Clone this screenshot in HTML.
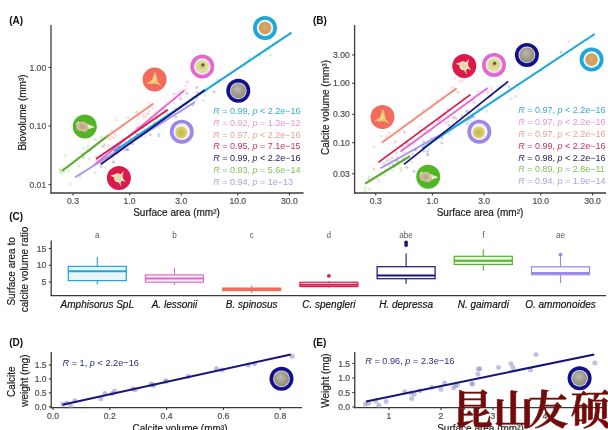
<!DOCTYPE html>
<html><head><meta charset="utf-8"><title>Figure</title>
<style>html,body{margin:0;padding:0;background:#fff;width:608px;height:430px;overflow:hidden}svg{display:block;filter:blur(0.35px)}text{font-family:"Liberation Sans", Arial, sans-serif}</style>
</head><body>
<svg width="608" height="430" viewBox="0 0 608 430">
<rect width="608" height="430" fill="#fff"/>
<defs>
<radialGradient id="g_tan" cx="50%" cy="45%" r="60%"><stop offset="0" stop-color="#d8b070"/><stop offset="0.6" stop-color="#cf9d5e"/><stop offset="1" stop-color="#d6ae78"/></radialGradient>
<radialGradient id="g_yel" cx="50%" cy="45%" r="55%"><stop offset="0" stop-color="#c8b868"/><stop offset="0.5" stop-color="#d8dc92"/><stop offset="1" stop-color="#e4e2a8"/></radialGradient>
<radialGradient id="g_gry" cx="45%" cy="40%" r="65%"><stop offset="0" stop-color="#bdbab0"/><stop offset="0.6" stop-color="#9d9a8a"/><stop offset="1" stop-color="#8a887a"/></radialGradient>
<radialGradient id="g_olv" cx="50%" cy="50%" r="55%"><stop offset="0" stop-color="#c2b648"/><stop offset="0.6" stop-color="#d3c962"/><stop offset="1" stop-color="#ddd690"/></radialGradient>
</defs>
<circle cx="78.75" cy="165.94" r="1.50" fill="#52b525" fill-opacity="0.2" stroke="none" stroke-width="0"/>
<circle cx="59.84" cy="169.45" r="1.50" fill="#52b525" fill-opacity="0.2" stroke="none" stroke-width="0"/>
<circle cx="61.02" cy="171.05" r="1.50" fill="#52b525" fill-opacity="0.2" stroke="none" stroke-width="0"/>
<circle cx="83.33" cy="156.41" r="1.50" fill="#52b525" fill-opacity="0.2" stroke="none" stroke-width="0"/>
<circle cx="82.37" cy="153.58" r="1.50" fill="#52b525" fill-opacity="0.2" stroke="none" stroke-width="0"/>
<circle cx="65.70" cy="155.52" r="1.50" fill="#52b525" fill-opacity="0.2" stroke="none" stroke-width="0"/>
<circle cx="83.37" cy="157.78" r="1.50" fill="#52b525" fill-opacity="0.2" stroke="none" stroke-width="0"/>
<circle cx="62.79" cy="168.38" r="1.50" fill="#52b525" fill-opacity="0.2" stroke="none" stroke-width="0"/>
<circle cx="68.41" cy="170.42" r="1.50" fill="#52b525" fill-opacity="0.2" stroke="none" stroke-width="0"/>
<circle cx="104.49" cy="145.54" r="1.50" fill="#52b525" fill-opacity="0.2" stroke="none" stroke-width="0"/>
<circle cx="90.61" cy="151.46" r="1.50" fill="#52b525" fill-opacity="0.2" stroke="none" stroke-width="0"/>
<circle cx="64.00" cy="172.16" r="1.50" fill="#52b525" fill-opacity="0.2" stroke="none" stroke-width="0"/>
<circle cx="93.15" cy="147.12" r="1.50" fill="#52b525" fill-opacity="0.2" stroke="none" stroke-width="0"/>
<circle cx="87.94" cy="150.38" r="1.50" fill="#52b525" fill-opacity="0.2" stroke="none" stroke-width="0"/>
<circle cx="100.94" cy="136.91" r="1.50" fill="#52b525" fill-opacity="0.2" stroke="none" stroke-width="0"/>
<circle cx="83.71" cy="148.01" r="1.50" fill="#52b525" fill-opacity="0.2" stroke="none" stroke-width="0"/>
<circle cx="96.15" cy="156.77" r="1.50" fill="#52b525" fill-opacity="0.2" stroke="none" stroke-width="0"/>
<circle cx="60.70" cy="172.76" r="1.50" fill="#52b525" fill-opacity="0.2" stroke="none" stroke-width="0"/>
<circle cx="66.08" cy="167.30" r="1.50" fill="#52b525" fill-opacity="0.2" stroke="none" stroke-width="0"/>
<circle cx="95.18" cy="139.22" r="1.50" fill="#52b525" fill-opacity="0.2" stroke="none" stroke-width="0"/>
<circle cx="104.23" cy="144.19" r="1.50" fill="#52b525" fill-opacity="0.2" stroke="none" stroke-width="0"/>
<circle cx="87.93" cy="146.13" r="1.50" fill="#52b525" fill-opacity="0.2" stroke="none" stroke-width="0"/>
<circle cx="151.76" cy="105.08" r="1.50" fill="#f16c5c" fill-opacity="0.2" stroke="none" stroke-width="0"/>
<circle cx="143.28" cy="116.71" r="1.50" fill="#f16c5c" fill-opacity="0.2" stroke="none" stroke-width="0"/>
<circle cx="143.59" cy="114.08" r="1.50" fill="#f16c5c" fill-opacity="0.2" stroke="none" stroke-width="0"/>
<circle cx="114.86" cy="133.42" r="1.50" fill="#f16c5c" fill-opacity="0.2" stroke="none" stroke-width="0"/>
<circle cx="102.14" cy="139.41" r="1.50" fill="#f16c5c" fill-opacity="0.2" stroke="none" stroke-width="0"/>
<circle cx="113.85" cy="138.12" r="1.50" fill="#f16c5c" fill-opacity="0.2" stroke="none" stroke-width="0"/>
<circle cx="109.78" cy="139.53" r="1.50" fill="#f16c5c" fill-opacity="0.2" stroke="none" stroke-width="0"/>
<circle cx="153.14" cy="108.44" r="1.50" fill="#f16c5c" fill-opacity="0.2" stroke="none" stroke-width="0"/>
<circle cx="136.81" cy="112.08" r="1.50" fill="#f16c5c" fill-opacity="0.2" stroke="none" stroke-width="0"/>
<circle cx="149.32" cy="111.17" r="1.50" fill="#f16c5c" fill-opacity="0.2" stroke="none" stroke-width="0"/>
<circle cx="127.91" cy="117.29" r="1.50" fill="#f16c5c" fill-opacity="0.2" stroke="none" stroke-width="0"/>
<circle cx="111.89" cy="136.96" r="1.50" fill="#f16c5c" fill-opacity="0.2" stroke="none" stroke-width="0"/>
<circle cx="111.44" cy="131.15" r="1.50" fill="#f16c5c" fill-opacity="0.2" stroke="none" stroke-width="0"/>
<circle cx="120.15" cy="129.51" r="1.50" fill="#f16c5c" fill-opacity="0.2" stroke="none" stroke-width="0"/>
<circle cx="116.06" cy="120.24" r="1.50" fill="#f16c5c" fill-opacity="0.2" stroke="none" stroke-width="0"/>
<circle cx="136.25" cy="112.13" r="1.50" fill="#f16c5c" fill-opacity="0.2" stroke="none" stroke-width="0"/>
<circle cx="145.68" cy="116.92" r="1.50" fill="#f16c5c" fill-opacity="0.2" stroke="none" stroke-width="0"/>
<circle cx="149.06" cy="102.99" r="1.50" fill="#f16c5c" fill-opacity="0.2" stroke="none" stroke-width="0"/>
<circle cx="122.98" cy="125.74" r="1.50" fill="#f16c5c" fill-opacity="0.2" stroke="none" stroke-width="0"/>
<circle cx="138.36" cy="115.69" r="1.50" fill="#f16c5c" fill-opacity="0.2" stroke="none" stroke-width="0"/>
<circle cx="115.51" cy="135.35" r="1.50" fill="#f16c5c" fill-opacity="0.2" stroke="none" stroke-width="0"/>
<circle cx="107.27" cy="137.53" r="1.50" fill="#f16c5c" fill-opacity="0.2" stroke="none" stroke-width="0"/>
<circle cx="80.35" cy="174.55" r="1.50" fill="#9a86ec" fill-opacity="0.2" stroke="none" stroke-width="0"/>
<circle cx="185.99" cy="105.08" r="1.50" fill="#9a86ec" fill-opacity="0.2" stroke="none" stroke-width="0"/>
<circle cx="99.93" cy="164.57" r="1.50" fill="#9a86ec" fill-opacity="0.2" stroke="none" stroke-width="0"/>
<circle cx="89.25" cy="159.02" r="1.50" fill="#9a86ec" fill-opacity="0.2" stroke="none" stroke-width="0"/>
<circle cx="129.75" cy="142.43" r="1.50" fill="#9a86ec" fill-opacity="0.2" stroke="none" stroke-width="0"/>
<circle cx="79.60" cy="176.91" r="1.50" fill="#9a86ec" fill-opacity="0.2" stroke="none" stroke-width="0"/>
<circle cx="181.35" cy="111.79" r="1.50" fill="#9a86ec" fill-opacity="0.2" stroke="none" stroke-width="0"/>
<circle cx="196.17" cy="99.83" r="1.50" fill="#9a86ec" fill-opacity="0.2" stroke="none" stroke-width="0"/>
<circle cx="145.27" cy="136.58" r="1.50" fill="#9a86ec" fill-opacity="0.2" stroke="none" stroke-width="0"/>
<circle cx="204.65" cy="92.11" r="1.50" fill="#9a86ec" fill-opacity="0.2" stroke="none" stroke-width="0"/>
<circle cx="101.57" cy="162.15" r="1.50" fill="#9a86ec" fill-opacity="0.2" stroke="none" stroke-width="0"/>
<circle cx="168.06" cy="114.02" r="1.50" fill="#9a86ec" fill-opacity="0.2" stroke="none" stroke-width="0"/>
<circle cx="113.16" cy="162.99" r="1.50" fill="#9a86ec" fill-opacity="0.2" stroke="none" stroke-width="0"/>
<circle cx="205.77" cy="90.16" r="1.50" fill="#9a86ec" fill-opacity="0.2" stroke="none" stroke-width="0"/>
<circle cx="179.42" cy="108.20" r="1.50" fill="#9a86ec" fill-opacity="0.2" stroke="none" stroke-width="0"/>
<circle cx="137.68" cy="138.71" r="1.50" fill="#9a86ec" fill-opacity="0.2" stroke="none" stroke-width="0"/>
<circle cx="70.24" cy="183.85" r="1.50" fill="#9a86ec" fill-opacity="0.2" stroke="none" stroke-width="0"/>
<circle cx="165.37" cy="121.18" r="1.50" fill="#9a86ec" fill-opacity="0.2" stroke="none" stroke-width="0"/>
<circle cx="203.36" cy="100.60" r="1.50" fill="#9a86ec" fill-opacity="0.2" stroke="none" stroke-width="0"/>
<circle cx="117.45" cy="154.49" r="1.50" fill="#9a86ec" fill-opacity="0.2" stroke="none" stroke-width="0"/>
<circle cx="95.10" cy="172.18" r="1.50" fill="#9a86ec" fill-opacity="0.2" stroke="none" stroke-width="0"/>
<circle cx="192.69" cy="99.89" r="1.50" fill="#9a86ec" fill-opacity="0.2" stroke="none" stroke-width="0"/>
<circle cx="156.33" cy="111.90" r="1.50" fill="#e268ce" fill-opacity="0.2" stroke="none" stroke-width="0"/>
<circle cx="161.15" cy="108.57" r="1.50" fill="#e268ce" fill-opacity="0.2" stroke="none" stroke-width="0"/>
<circle cx="164.08" cy="106.04" r="1.50" fill="#e268ce" fill-opacity="0.2" stroke="none" stroke-width="0"/>
<circle cx="167.29" cy="110.07" r="1.50" fill="#e268ce" fill-opacity="0.2" stroke="none" stroke-width="0"/>
<circle cx="186.33" cy="89.76" r="1.50" fill="#e268ce" fill-opacity="0.2" stroke="none" stroke-width="0"/>
<circle cx="185.90" cy="85.79" r="1.50" fill="#e268ce" fill-opacity="0.2" stroke="none" stroke-width="0"/>
<circle cx="105.60" cy="167.67" r="1.50" fill="#e268ce" fill-opacity="0.2" stroke="none" stroke-width="0"/>
<circle cx="175.15" cy="108.23" r="1.50" fill="#e268ce" fill-opacity="0.2" stroke="none" stroke-width="0"/>
<circle cx="188.10" cy="82.06" r="1.50" fill="#e268ce" fill-opacity="0.2" stroke="none" stroke-width="0"/>
<circle cx="145.55" cy="123.44" r="1.50" fill="#e268ce" fill-opacity="0.2" stroke="none" stroke-width="0"/>
<circle cx="186.50" cy="81.80" r="1.50" fill="#e268ce" fill-opacity="0.2" stroke="none" stroke-width="0"/>
<circle cx="179.27" cy="94.02" r="1.50" fill="#e268ce" fill-opacity="0.2" stroke="none" stroke-width="0"/>
<circle cx="174.32" cy="102.81" r="1.50" fill="#e268ce" fill-opacity="0.2" stroke="none" stroke-width="0"/>
<circle cx="119.13" cy="151.30" r="1.50" fill="#e268ce" fill-opacity="0.2" stroke="none" stroke-width="0"/>
<circle cx="114.04" cy="148.83" r="1.50" fill="#e268ce" fill-opacity="0.2" stroke="none" stroke-width="0"/>
<circle cx="180.38" cy="96.34" r="1.50" fill="#e268ce" fill-opacity="0.2" stroke="none" stroke-width="0"/>
<circle cx="151.36" cy="116.90" r="1.50" fill="#e268ce" fill-opacity="0.2" stroke="none" stroke-width="0"/>
<circle cx="179.50" cy="91.22" r="1.50" fill="#e268ce" fill-opacity="0.2" stroke="none" stroke-width="0"/>
<circle cx="145.83" cy="125.60" r="1.50" fill="#e268ce" fill-opacity="0.2" stroke="none" stroke-width="0"/>
<circle cx="112.96" cy="154.28" r="1.50" fill="#e268ce" fill-opacity="0.2" stroke="none" stroke-width="0"/>
<circle cx="101.72" cy="156.31" r="1.50" fill="#e268ce" fill-opacity="0.2" stroke="none" stroke-width="0"/>
<circle cx="144.34" cy="127.52" r="1.50" fill="#e268ce" fill-opacity="0.2" stroke="none" stroke-width="0"/>
<circle cx="137.08" cy="128.65" r="1.50" fill="#da1a4a" fill-opacity="0.2" stroke="none" stroke-width="0"/>
<circle cx="137.20" cy="134.71" r="1.50" fill="#da1a4a" fill-opacity="0.2" stroke="none" stroke-width="0"/>
<circle cx="150.81" cy="118.36" r="1.50" fill="#da1a4a" fill-opacity="0.2" stroke="none" stroke-width="0"/>
<circle cx="156.41" cy="116.54" r="1.50" fill="#da1a4a" fill-opacity="0.2" stroke="none" stroke-width="0"/>
<circle cx="137.89" cy="127.51" r="1.50" fill="#da1a4a" fill-opacity="0.2" stroke="none" stroke-width="0"/>
<circle cx="144.56" cy="125.00" r="1.50" fill="#da1a4a" fill-opacity="0.2" stroke="none" stroke-width="0"/>
<circle cx="134.74" cy="132.56" r="1.50" fill="#da1a4a" fill-opacity="0.2" stroke="none" stroke-width="0"/>
<circle cx="165.43" cy="111.38" r="1.50" fill="#da1a4a" fill-opacity="0.2" stroke="none" stroke-width="0"/>
<circle cx="142.50" cy="127.39" r="1.50" fill="#da1a4a" fill-opacity="0.2" stroke="none" stroke-width="0"/>
<circle cx="104.63" cy="158.41" r="1.50" fill="#da1a4a" fill-opacity="0.2" stroke="none" stroke-width="0"/>
<circle cx="97.03" cy="160.28" r="1.50" fill="#da1a4a" fill-opacity="0.2" stroke="none" stroke-width="0"/>
<circle cx="147.54" cy="114.08" r="1.50" fill="#da1a4a" fill-opacity="0.2" stroke="none" stroke-width="0"/>
<circle cx="102.78" cy="146.51" r="1.50" fill="#da1a4a" fill-opacity="0.2" stroke="none" stroke-width="0"/>
<circle cx="108.59" cy="145.55" r="1.50" fill="#da1a4a" fill-opacity="0.2" stroke="none" stroke-width="0"/>
<circle cx="111.98" cy="148.52" r="1.50" fill="#da1a4a" fill-opacity="0.2" stroke="none" stroke-width="0"/>
<circle cx="136.82" cy="134.22" r="1.50" fill="#da1a4a" fill-opacity="0.2" stroke="none" stroke-width="0"/>
<circle cx="101.01" cy="155.81" r="1.50" fill="#da1a4a" fill-opacity="0.2" stroke="none" stroke-width="0"/>
<circle cx="119.82" cy="147.35" r="1.50" fill="#da1a4a" fill-opacity="0.2" stroke="none" stroke-width="0"/>
<circle cx="154.31" cy="122.28" r="1.50" fill="#da1a4a" fill-opacity="0.2" stroke="none" stroke-width="0"/>
<circle cx="129.97" cy="137.99" r="1.50" fill="#da1a4a" fill-opacity="0.2" stroke="none" stroke-width="0"/>
<circle cx="141.34" cy="126.94" r="1.50" fill="#da1a4a" fill-opacity="0.2" stroke="none" stroke-width="0"/>
<circle cx="174.12" cy="93.64" r="1.50" fill="#da1a4a" fill-opacity="0.2" stroke="none" stroke-width="0"/>
<circle cx="122.88" cy="146.73" r="1.50" fill="#1da6d8" fill-opacity="0.2" stroke="none" stroke-width="0"/>
<circle cx="260.39" cy="55.97" r="1.50" fill="#1da6d8" fill-opacity="0.2" stroke="none" stroke-width="0"/>
<circle cx="192.48" cy="97.13" r="1.50" fill="#1da6d8" fill-opacity="0.2" stroke="none" stroke-width="0"/>
<circle cx="158.34" cy="133.38" r="1.50" fill="#1da6d8" fill-opacity="0.2" stroke="none" stroke-width="0"/>
<circle cx="217.65" cy="79.72" r="1.50" fill="#1da6d8" fill-opacity="0.2" stroke="none" stroke-width="0"/>
<circle cx="112.12" cy="146.88" r="1.50" fill="#1da6d8" fill-opacity="0.2" stroke="none" stroke-width="0"/>
<circle cx="120.30" cy="147.05" r="1.50" fill="#1da6d8" fill-opacity="0.2" stroke="none" stroke-width="0"/>
<circle cx="270.32" cy="55.21" r="1.50" fill="#1da6d8" fill-opacity="0.2" stroke="none" stroke-width="0"/>
<circle cx="117.32" cy="146.34" r="1.50" fill="#1da6d8" fill-opacity="0.2" stroke="none" stroke-width="0"/>
<circle cx="164.32" cy="109.60" r="1.50" fill="#1da6d8" fill-opacity="0.2" stroke="none" stroke-width="0"/>
<circle cx="158.78" cy="127.51" r="1.50" fill="#1da6d8" fill-opacity="0.2" stroke="none" stroke-width="0"/>
<circle cx="151.62" cy="128.97" r="1.50" fill="#1da6d8" fill-opacity="0.2" stroke="none" stroke-width="0"/>
<circle cx="112.63" cy="156.86" r="1.50" fill="#1da6d8" fill-opacity="0.2" stroke="none" stroke-width="0"/>
<circle cx="163.98" cy="113.87" r="1.50" fill="#1da6d8" fill-opacity="0.2" stroke="none" stroke-width="0"/>
<circle cx="204.87" cy="95.55" r="1.50" fill="#1da6d8" fill-opacity="0.2" stroke="none" stroke-width="0"/>
<circle cx="105.28" cy="158.00" r="1.50" fill="#1da6d8" fill-opacity="0.2" stroke="none" stroke-width="0"/>
<circle cx="249.37" cy="58.60" r="1.50" fill="#1da6d8" fill-opacity="0.2" stroke="none" stroke-width="0"/>
<circle cx="199.79" cy="93.90" r="1.50" fill="#1da6d8" fill-opacity="0.2" stroke="none" stroke-width="0"/>
<circle cx="265.54" cy="50.33" r="1.50" fill="#1da6d8" fill-opacity="0.2" stroke="none" stroke-width="0"/>
<circle cx="269.15" cy="49.47" r="1.50" fill="#1da6d8" fill-opacity="0.2" stroke="none" stroke-width="0"/>
<circle cx="244.69" cy="65.30" r="1.50" fill="#1da6d8" fill-opacity="0.2" stroke="none" stroke-width="0"/>
<circle cx="270.32" cy="39.24" r="1.50" fill="#1da6d8" fill-opacity="0.2" stroke="none" stroke-width="0"/>
<circle cx="141.31" cy="136.23" r="1.50" fill="#16137a" fill-opacity="0.2" stroke="none" stroke-width="0"/>
<circle cx="113.49" cy="161.85" r="1.50" fill="#16137a" fill-opacity="0.2" stroke="none" stroke-width="0"/>
<circle cx="124.72" cy="149.38" r="1.50" fill="#16137a" fill-opacity="0.2" stroke="none" stroke-width="0"/>
<circle cx="197.12" cy="92.19" r="1.50" fill="#16137a" fill-opacity="0.2" stroke="none" stroke-width="0"/>
<circle cx="127.34" cy="149.50" r="1.50" fill="#16137a" fill-opacity="0.2" stroke="none" stroke-width="0"/>
<circle cx="150.21" cy="134.73" r="1.50" fill="#16137a" fill-opacity="0.2" stroke="none" stroke-width="0"/>
<circle cx="132.80" cy="143.74" r="1.50" fill="#16137a" fill-opacity="0.2" stroke="none" stroke-width="0"/>
<circle cx="159.17" cy="135.69" r="1.50" fill="#16137a" fill-opacity="0.2" stroke="none" stroke-width="0"/>
<circle cx="130.43" cy="143.16" r="1.50" fill="#16137a" fill-opacity="0.2" stroke="none" stroke-width="0"/>
<circle cx="135.62" cy="137.77" r="1.50" fill="#16137a" fill-opacity="0.2" stroke="none" stroke-width="0"/>
<circle cx="117.24" cy="152.23" r="1.50" fill="#16137a" fill-opacity="0.2" stroke="none" stroke-width="0"/>
<circle cx="127.65" cy="149.55" r="1.50" fill="#16137a" fill-opacity="0.2" stroke="none" stroke-width="0"/>
<circle cx="101.04" cy="166.44" r="1.50" fill="#16137a" fill-opacity="0.2" stroke="none" stroke-width="0"/>
<circle cx="118.18" cy="146.38" r="1.50" fill="#16137a" fill-opacity="0.2" stroke="none" stroke-width="0"/>
<circle cx="180.59" cy="98.72" r="1.50" fill="#16137a" fill-opacity="0.2" stroke="none" stroke-width="0"/>
<circle cx="196.52" cy="97.22" r="1.50" fill="#16137a" fill-opacity="0.2" stroke="none" stroke-width="0"/>
<circle cx="214.03" cy="91.84" r="1.50" fill="#16137a" fill-opacity="0.2" stroke="none" stroke-width="0"/>
<circle cx="175.87" cy="117.09" r="1.50" fill="#16137a" fill-opacity="0.2" stroke="none" stroke-width="0"/>
<circle cx="196.70" cy="87.45" r="1.50" fill="#16137a" fill-opacity="0.2" stroke="none" stroke-width="0"/>
<circle cx="192.92" cy="104.76" r="1.50" fill="#16137a" fill-opacity="0.2" stroke="none" stroke-width="0"/>
<circle cx="156.55" cy="118.58" r="1.50" fill="#16137a" fill-opacity="0.2" stroke="none" stroke-width="0"/>
<circle cx="186.79" cy="93.55" r="1.50" fill="#16137a" fill-opacity="0.2" stroke="none" stroke-width="0"/>
<circle cx="396.39" cy="160.68" r="1.50" fill="#52b525" fill-opacity="0.2" stroke="none" stroke-width="0"/>
<circle cx="365.47" cy="188.04" r="1.50" fill="#52b525" fill-opacity="0.2" stroke="none" stroke-width="0"/>
<circle cx="369.34" cy="176.73" r="1.50" fill="#52b525" fill-opacity="0.2" stroke="none" stroke-width="0"/>
<circle cx="391.13" cy="160.42" r="1.50" fill="#52b525" fill-opacity="0.2" stroke="none" stroke-width="0"/>
<circle cx="392.53" cy="170.34" r="1.50" fill="#52b525" fill-opacity="0.2" stroke="none" stroke-width="0"/>
<circle cx="396.80" cy="161.90" r="1.50" fill="#52b525" fill-opacity="0.2" stroke="none" stroke-width="0"/>
<circle cx="400.42" cy="168.11" r="1.50" fill="#52b525" fill-opacity="0.2" stroke="none" stroke-width="0"/>
<circle cx="377.06" cy="179.36" r="1.50" fill="#52b525" fill-opacity="0.2" stroke="none" stroke-width="0"/>
<circle cx="400.91" cy="170.50" r="1.50" fill="#52b525" fill-opacity="0.2" stroke="none" stroke-width="0"/>
<circle cx="409.29" cy="155.06" r="1.50" fill="#52b525" fill-opacity="0.2" stroke="none" stroke-width="0"/>
<circle cx="384.57" cy="162.67" r="1.50" fill="#52b525" fill-opacity="0.2" stroke="none" stroke-width="0"/>
<circle cx="393.00" cy="164.57" r="1.50" fill="#52b525" fill-opacity="0.2" stroke="none" stroke-width="0"/>
<circle cx="369.44" cy="189.12" r="1.50" fill="#52b525" fill-opacity="0.2" stroke="none" stroke-width="0"/>
<circle cx="377.21" cy="175.63" r="1.50" fill="#52b525" fill-opacity="0.2" stroke="none" stroke-width="0"/>
<circle cx="364.56" cy="191.02" r="1.50" fill="#52b525" fill-opacity="0.2" stroke="none" stroke-width="0"/>
<circle cx="396.51" cy="160.08" r="1.50" fill="#52b525" fill-opacity="0.2" stroke="none" stroke-width="0"/>
<circle cx="385.30" cy="170.53" r="1.50" fill="#52b525" fill-opacity="0.2" stroke="none" stroke-width="0"/>
<circle cx="369.64" cy="179.73" r="1.50" fill="#52b525" fill-opacity="0.2" stroke="none" stroke-width="0"/>
<circle cx="412.88" cy="154.44" r="1.50" fill="#52b525" fill-opacity="0.2" stroke="none" stroke-width="0"/>
<circle cx="388.96" cy="159.22" r="1.50" fill="#52b525" fill-opacity="0.2" stroke="none" stroke-width="0"/>
<circle cx="384.88" cy="174.81" r="1.50" fill="#52b525" fill-opacity="0.2" stroke="none" stroke-width="0"/>
<circle cx="411.65" cy="162.22" r="1.50" fill="#52b525" fill-opacity="0.2" stroke="none" stroke-width="0"/>
<circle cx="381.35" cy="135.77" r="1.50" fill="#f16c5c" fill-opacity="0.2" stroke="none" stroke-width="0"/>
<circle cx="389.41" cy="132.81" r="1.50" fill="#f16c5c" fill-opacity="0.2" stroke="none" stroke-width="0"/>
<circle cx="452.31" cy="87.46" r="1.50" fill="#f16c5c" fill-opacity="0.2" stroke="none" stroke-width="0"/>
<circle cx="453.21" cy="90.35" r="1.50" fill="#f16c5c" fill-opacity="0.2" stroke="none" stroke-width="0"/>
<circle cx="373.48" cy="146.58" r="1.50" fill="#f16c5c" fill-opacity="0.2" stroke="none" stroke-width="0"/>
<circle cx="404.24" cy="131.14" r="1.50" fill="#f16c5c" fill-opacity="0.2" stroke="none" stroke-width="0"/>
<circle cx="403.81" cy="126.46" r="1.50" fill="#f16c5c" fill-opacity="0.2" stroke="none" stroke-width="0"/>
<circle cx="442.01" cy="97.32" r="1.50" fill="#f16c5c" fill-opacity="0.2" stroke="none" stroke-width="0"/>
<circle cx="454.86" cy="77.98" r="1.50" fill="#f16c5c" fill-opacity="0.2" stroke="none" stroke-width="0"/>
<circle cx="399.37" cy="131.94" r="1.50" fill="#f16c5c" fill-opacity="0.2" stroke="none" stroke-width="0"/>
<circle cx="460.19" cy="81.40" r="1.50" fill="#f16c5c" fill-opacity="0.2" stroke="none" stroke-width="0"/>
<circle cx="413.22" cy="121.24" r="1.50" fill="#f16c5c" fill-opacity="0.2" stroke="none" stroke-width="0"/>
<circle cx="386.47" cy="136.61" r="1.50" fill="#f16c5c" fill-opacity="0.2" stroke="none" stroke-width="0"/>
<circle cx="457.15" cy="91.81" r="1.50" fill="#f16c5c" fill-opacity="0.2" stroke="none" stroke-width="0"/>
<circle cx="421.59" cy="118.98" r="1.50" fill="#f16c5c" fill-opacity="0.2" stroke="none" stroke-width="0"/>
<circle cx="463.02" cy="80.51" r="1.50" fill="#f16c5c" fill-opacity="0.2" stroke="none" stroke-width="0"/>
<circle cx="436.97" cy="100.82" r="1.50" fill="#f16c5c" fill-opacity="0.2" stroke="none" stroke-width="0"/>
<circle cx="423.64" cy="110.53" r="1.50" fill="#f16c5c" fill-opacity="0.2" stroke="none" stroke-width="0"/>
<circle cx="434.84" cy="103.15" r="1.50" fill="#f16c5c" fill-opacity="0.2" stroke="none" stroke-width="0"/>
<circle cx="431.82" cy="107.67" r="1.50" fill="#f16c5c" fill-opacity="0.2" stroke="none" stroke-width="0"/>
<circle cx="458.75" cy="92.48" r="1.50" fill="#f16c5c" fill-opacity="0.2" stroke="none" stroke-width="0"/>
<circle cx="404.64" cy="132.81" r="1.50" fill="#f16c5c" fill-opacity="0.2" stroke="none" stroke-width="0"/>
<circle cx="478.65" cy="120.53" r="1.50" fill="#9a86ec" fill-opacity="0.2" stroke="none" stroke-width="0"/>
<circle cx="403.49" cy="152.10" r="1.50" fill="#9a86ec" fill-opacity="0.2" stroke="none" stroke-width="0"/>
<circle cx="393.03" cy="164.80" r="1.50" fill="#9a86ec" fill-opacity="0.2" stroke="none" stroke-width="0"/>
<circle cx="469.25" cy="117.54" r="1.50" fill="#9a86ec" fill-opacity="0.2" stroke="none" stroke-width="0"/>
<circle cx="474.68" cy="117.33" r="1.50" fill="#9a86ec" fill-opacity="0.2" stroke="none" stroke-width="0"/>
<circle cx="389.43" cy="165.60" r="1.50" fill="#9a86ec" fill-opacity="0.2" stroke="none" stroke-width="0"/>
<circle cx="412.59" cy="153.40" r="1.50" fill="#9a86ec" fill-opacity="0.2" stroke="none" stroke-width="0"/>
<circle cx="396.06" cy="152.00" r="1.50" fill="#9a86ec" fill-opacity="0.2" stroke="none" stroke-width="0"/>
<circle cx="451.92" cy="129.57" r="1.50" fill="#9a86ec" fill-opacity="0.2" stroke="none" stroke-width="0"/>
<circle cx="428.37" cy="143.61" r="1.50" fill="#9a86ec" fill-opacity="0.2" stroke="none" stroke-width="0"/>
<circle cx="379.28" cy="181.13" r="1.50" fill="#9a86ec" fill-opacity="0.2" stroke="none" stroke-width="0"/>
<circle cx="383.26" cy="164.24" r="1.50" fill="#9a86ec" fill-opacity="0.2" stroke="none" stroke-width="0"/>
<circle cx="467.24" cy="123.95" r="1.50" fill="#9a86ec" fill-opacity="0.2" stroke="none" stroke-width="0"/>
<circle cx="398.04" cy="160.22" r="1.50" fill="#9a86ec" fill-opacity="0.2" stroke="none" stroke-width="0"/>
<circle cx="480.07" cy="106.32" r="1.50" fill="#9a86ec" fill-opacity="0.2" stroke="none" stroke-width="0"/>
<circle cx="380.92" cy="172.23" r="1.50" fill="#9a86ec" fill-opacity="0.2" stroke="none" stroke-width="0"/>
<circle cx="466.33" cy="119.20" r="1.50" fill="#9a86ec" fill-opacity="0.2" stroke="none" stroke-width="0"/>
<circle cx="368.65" cy="179.15" r="1.50" fill="#9a86ec" fill-opacity="0.2" stroke="none" stroke-width="0"/>
<circle cx="467.67" cy="111.75" r="1.50" fill="#9a86ec" fill-opacity="0.2" stroke="none" stroke-width="0"/>
<circle cx="402.02" cy="158.85" r="1.50" fill="#9a86ec" fill-opacity="0.2" stroke="none" stroke-width="0"/>
<circle cx="427.16" cy="129.70" r="1.50" fill="#9a86ec" fill-opacity="0.2" stroke="none" stroke-width="0"/>
<circle cx="448.49" cy="121.75" r="1.50" fill="#9a86ec" fill-opacity="0.2" stroke="none" stroke-width="0"/>
<circle cx="419.58" cy="131.04" r="1.50" fill="#da1a4a" fill-opacity="0.2" stroke="none" stroke-width="0"/>
<circle cx="455.55" cy="117.32" r="1.50" fill="#da1a4a" fill-opacity="0.2" stroke="none" stroke-width="0"/>
<circle cx="439.80" cy="119.28" r="1.50" fill="#da1a4a" fill-opacity="0.2" stroke="none" stroke-width="0"/>
<circle cx="395.58" cy="141.66" r="1.50" fill="#da1a4a" fill-opacity="0.2" stroke="none" stroke-width="0"/>
<circle cx="387.14" cy="161.01" r="1.50" fill="#da1a4a" fill-opacity="0.2" stroke="none" stroke-width="0"/>
<circle cx="432.06" cy="124.00" r="1.50" fill="#da1a4a" fill-opacity="0.2" stroke="none" stroke-width="0"/>
<circle cx="438.15" cy="120.56" r="1.50" fill="#da1a4a" fill-opacity="0.2" stroke="none" stroke-width="0"/>
<circle cx="424.92" cy="129.39" r="1.50" fill="#da1a4a" fill-opacity="0.2" stroke="none" stroke-width="0"/>
<circle cx="463.39" cy="98.80" r="1.50" fill="#da1a4a" fill-opacity="0.2" stroke="none" stroke-width="0"/>
<circle cx="402.66" cy="145.97" r="1.50" fill="#da1a4a" fill-opacity="0.2" stroke="none" stroke-width="0"/>
<circle cx="408.00" cy="143.98" r="1.50" fill="#da1a4a" fill-opacity="0.2" stroke="none" stroke-width="0"/>
<circle cx="441.36" cy="116.42" r="1.50" fill="#da1a4a" fill-opacity="0.2" stroke="none" stroke-width="0"/>
<circle cx="444.55" cy="113.49" r="1.50" fill="#da1a4a" fill-opacity="0.2" stroke="none" stroke-width="0"/>
<circle cx="373.92" cy="168.93" r="1.50" fill="#da1a4a" fill-opacity="0.2" stroke="none" stroke-width="0"/>
<circle cx="445.96" cy="122.39" r="1.50" fill="#da1a4a" fill-opacity="0.2" stroke="none" stroke-width="0"/>
<circle cx="448.21" cy="109.41" r="1.50" fill="#da1a4a" fill-opacity="0.2" stroke="none" stroke-width="0"/>
<circle cx="472.57" cy="100.10" r="1.50" fill="#da1a4a" fill-opacity="0.2" stroke="none" stroke-width="0"/>
<circle cx="397.30" cy="157.47" r="1.50" fill="#da1a4a" fill-opacity="0.2" stroke="none" stroke-width="0"/>
<circle cx="406.54" cy="142.41" r="1.50" fill="#da1a4a" fill-opacity="0.2" stroke="none" stroke-width="0"/>
<circle cx="392.31" cy="157.66" r="1.50" fill="#da1a4a" fill-opacity="0.2" stroke="none" stroke-width="0"/>
<circle cx="444.02" cy="114.38" r="1.50" fill="#da1a4a" fill-opacity="0.2" stroke="none" stroke-width="0"/>
<circle cx="415.50" cy="149.62" r="1.50" fill="#da1a4a" fill-opacity="0.2" stroke="none" stroke-width="0"/>
<circle cx="409.63" cy="146.25" r="1.50" fill="#e268ce" fill-opacity="0.2" stroke="none" stroke-width="0"/>
<circle cx="438.83" cy="121.13" r="1.50" fill="#e268ce" fill-opacity="0.2" stroke="none" stroke-width="0"/>
<circle cx="474.82" cy="102.36" r="1.50" fill="#e268ce" fill-opacity="0.2" stroke="none" stroke-width="0"/>
<circle cx="430.18" cy="142.77" r="1.50" fill="#e268ce" fill-opacity="0.2" stroke="none" stroke-width="0"/>
<circle cx="473.58" cy="103.02" r="1.50" fill="#e268ce" fill-opacity="0.2" stroke="none" stroke-width="0"/>
<circle cx="430.47" cy="131.59" r="1.50" fill="#e268ce" fill-opacity="0.2" stroke="none" stroke-width="0"/>
<circle cx="413.80" cy="143.76" r="1.50" fill="#e268ce" fill-opacity="0.2" stroke="none" stroke-width="0"/>
<circle cx="431.12" cy="129.67" r="1.50" fill="#e268ce" fill-opacity="0.2" stroke="none" stroke-width="0"/>
<circle cx="491.84" cy="90.16" r="1.50" fill="#e268ce" fill-opacity="0.2" stroke="none" stroke-width="0"/>
<circle cx="478.18" cy="91.26" r="1.50" fill="#e268ce" fill-opacity="0.2" stroke="none" stroke-width="0"/>
<circle cx="396.48" cy="153.25" r="1.50" fill="#e268ce" fill-opacity="0.2" stroke="none" stroke-width="0"/>
<circle cx="487.60" cy="93.36" r="1.50" fill="#e268ce" fill-opacity="0.2" stroke="none" stroke-width="0"/>
<circle cx="487.38" cy="91.51" r="1.50" fill="#e268ce" fill-opacity="0.2" stroke="none" stroke-width="0"/>
<circle cx="475.90" cy="95.33" r="1.50" fill="#e268ce" fill-opacity="0.2" stroke="none" stroke-width="0"/>
<circle cx="404.12" cy="157.81" r="1.50" fill="#e268ce" fill-opacity="0.2" stroke="none" stroke-width="0"/>
<circle cx="420.06" cy="126.58" r="1.50" fill="#e268ce" fill-opacity="0.2" stroke="none" stroke-width="0"/>
<circle cx="427.34" cy="143.74" r="1.50" fill="#e268ce" fill-opacity="0.2" stroke="none" stroke-width="0"/>
<circle cx="455.90" cy="118.91" r="1.50" fill="#e268ce" fill-opacity="0.2" stroke="none" stroke-width="0"/>
<circle cx="426.09" cy="133.36" r="1.50" fill="#e268ce" fill-opacity="0.2" stroke="none" stroke-width="0"/>
<circle cx="473.85" cy="97.31" r="1.50" fill="#e268ce" fill-opacity="0.2" stroke="none" stroke-width="0"/>
<circle cx="491.15" cy="87.72" r="1.50" fill="#e268ce" fill-opacity="0.2" stroke="none" stroke-width="0"/>
<circle cx="449.22" cy="118.02" r="1.50" fill="#e268ce" fill-opacity="0.2" stroke="none" stroke-width="0"/>
<circle cx="486.62" cy="110.98" r="1.50" fill="#1da6d8" fill-opacity="0.2" stroke="none" stroke-width="0"/>
<circle cx="509.58" cy="90.20" r="1.50" fill="#1da6d8" fill-opacity="0.2" stroke="none" stroke-width="0"/>
<circle cx="568.82" cy="41.57" r="1.50" fill="#1da6d8" fill-opacity="0.2" stroke="none" stroke-width="0"/>
<circle cx="561.22" cy="51.99" r="1.50" fill="#1da6d8" fill-opacity="0.2" stroke="none" stroke-width="0"/>
<circle cx="469.96" cy="121.17" r="1.50" fill="#1da6d8" fill-opacity="0.2" stroke="none" stroke-width="0"/>
<circle cx="427.23" cy="154.12" r="1.50" fill="#1da6d8" fill-opacity="0.2" stroke="none" stroke-width="0"/>
<circle cx="459.73" cy="124.55" r="1.50" fill="#1da6d8" fill-opacity="0.2" stroke="none" stroke-width="0"/>
<circle cx="515.75" cy="96.25" r="1.50" fill="#1da6d8" fill-opacity="0.2" stroke="none" stroke-width="0"/>
<circle cx="587.63" cy="39.89" r="1.50" fill="#1da6d8" fill-opacity="0.2" stroke="none" stroke-width="0"/>
<circle cx="429.50" cy="148.89" r="1.50" fill="#1da6d8" fill-opacity="0.2" stroke="none" stroke-width="0"/>
<circle cx="548.73" cy="64.28" r="1.50" fill="#1da6d8" fill-opacity="0.2" stroke="none" stroke-width="0"/>
<circle cx="489.39" cy="96.55" r="1.50" fill="#1da6d8" fill-opacity="0.2" stroke="none" stroke-width="0"/>
<circle cx="560.92" cy="51.99" r="1.50" fill="#1da6d8" fill-opacity="0.2" stroke="none" stroke-width="0"/>
<circle cx="435.32" cy="137.14" r="1.50" fill="#1da6d8" fill-opacity="0.2" stroke="none" stroke-width="0"/>
<circle cx="519.01" cy="87.77" r="1.50" fill="#1da6d8" fill-opacity="0.2" stroke="none" stroke-width="0"/>
<circle cx="449.49" cy="134.12" r="1.50" fill="#1da6d8" fill-opacity="0.2" stroke="none" stroke-width="0"/>
<circle cx="443.29" cy="132.04" r="1.50" fill="#1da6d8" fill-opacity="0.2" stroke="none" stroke-width="0"/>
<circle cx="467.24" cy="123.11" r="1.50" fill="#1da6d8" fill-opacity="0.2" stroke="none" stroke-width="0"/>
<circle cx="511.25" cy="98.79" r="1.50" fill="#1da6d8" fill-opacity="0.2" stroke="none" stroke-width="0"/>
<circle cx="540.99" cy="70.39" r="1.50" fill="#1da6d8" fill-opacity="0.2" stroke="none" stroke-width="0"/>
<circle cx="506.57" cy="85.36" r="1.50" fill="#1da6d8" fill-opacity="0.2" stroke="none" stroke-width="0"/>
<circle cx="593.83" cy="37.16" r="1.50" fill="#1da6d8" fill-opacity="0.2" stroke="none" stroke-width="0"/>
<circle cx="413.98" cy="171.31" r="1.50" fill="#16137a" fill-opacity="0.2" stroke="none" stroke-width="0"/>
<circle cx="469.21" cy="112.49" r="1.50" fill="#16137a" fill-opacity="0.2" stroke="none" stroke-width="0"/>
<circle cx="498.28" cy="88.76" r="1.50" fill="#16137a" fill-opacity="0.2" stroke="none" stroke-width="0"/>
<circle cx="491.24" cy="95.18" r="1.50" fill="#16137a" fill-opacity="0.2" stroke="none" stroke-width="0"/>
<circle cx="466.61" cy="110.91" r="1.50" fill="#16137a" fill-opacity="0.2" stroke="none" stroke-width="0"/>
<circle cx="442.17" cy="137.64" r="1.50" fill="#16137a" fill-opacity="0.2" stroke="none" stroke-width="0"/>
<circle cx="423.72" cy="141.63" r="1.50" fill="#16137a" fill-opacity="0.2" stroke="none" stroke-width="0"/>
<circle cx="423.75" cy="151.11" r="1.50" fill="#16137a" fill-opacity="0.2" stroke="none" stroke-width="0"/>
<circle cx="479.02" cy="109.44" r="1.50" fill="#16137a" fill-opacity="0.2" stroke="none" stroke-width="0"/>
<circle cx="422.14" cy="144.75" r="1.50" fill="#16137a" fill-opacity="0.2" stroke="none" stroke-width="0"/>
<circle cx="406.71" cy="167.15" r="1.50" fill="#16137a" fill-opacity="0.2" stroke="none" stroke-width="0"/>
<circle cx="461.79" cy="116.02" r="1.50" fill="#16137a" fill-opacity="0.2" stroke="none" stroke-width="0"/>
<circle cx="415.28" cy="149.75" r="1.50" fill="#16137a" fill-opacity="0.2" stroke="none" stroke-width="0"/>
<circle cx="428.03" cy="154.74" r="1.50" fill="#16137a" fill-opacity="0.2" stroke="none" stroke-width="0"/>
<circle cx="431.56" cy="138.49" r="1.50" fill="#16137a" fill-opacity="0.2" stroke="none" stroke-width="0"/>
<circle cx="453.27" cy="117.76" r="1.50" fill="#16137a" fill-opacity="0.2" stroke="none" stroke-width="0"/>
<circle cx="441.87" cy="143.12" r="1.50" fill="#16137a" fill-opacity="0.2" stroke="none" stroke-width="0"/>
<circle cx="427.57" cy="151.17" r="1.50" fill="#16137a" fill-opacity="0.2" stroke="none" stroke-width="0"/>
<circle cx="448.80" cy="125.15" r="1.50" fill="#16137a" fill-opacity="0.2" stroke="none" stroke-width="0"/>
<circle cx="500.76" cy="86.67" r="1.50" fill="#16137a" fill-opacity="0.2" stroke="none" stroke-width="0"/>
<circle cx="394.41" cy="166.52" r="1.50" fill="#16137a" fill-opacity="0.2" stroke="none" stroke-width="0"/>
<circle cx="509.27" cy="87.07" r="1.50" fill="#16137a" fill-opacity="0.2" stroke="none" stroke-width="0"/>
<line x1="62.00" y1="171.00" x2="109.00" y2="134.80" stroke="#5aab2e" stroke-width="2.2" stroke-opacity="1" stroke-linecap="butt"/>
<line x1="106.00" y1="137.20" x2="153.50" y2="103.50" stroke="#ef8a7a" stroke-width="1.8" stroke-opacity="1" stroke-linecap="butt"/>
<line x1="75.20" y1="177.20" x2="195.00" y2="102.10" stroke="#a492ea" stroke-width="1.8" stroke-opacity="1" stroke-linecap="butt"/>
<line x1="95.00" y1="164.50" x2="184.50" y2="90.20" stroke="#e268ce" stroke-width="1.8" stroke-opacity="1" stroke-linecap="butt"/>
<line x1="96.00" y1="159.00" x2="167.70" y2="109.70" stroke="#da1a4a" stroke-width="1.8" stroke-opacity="1" stroke-linecap="butt"/>
<line x1="114.00" y1="151.30" x2="291.50" y2="32.70" stroke="#1da6d8" stroke-width="2.1" stroke-opacity="1" stroke-linecap="butt"/>
<line x1="100.80" y1="164.20" x2="204.70" y2="90.00" stroke="#16137a" stroke-width="1.8" stroke-opacity="1" stroke-linecap="butt"/>
<line x1="365.10" y1="183.60" x2="409.90" y2="156.30" stroke="#5aab2e" stroke-width="2.2" stroke-opacity="1" stroke-linecap="butt"/>
<line x1="381.70" y1="142.70" x2="456.70" y2="88.20" stroke="#ef8a7a" stroke-width="1.8" stroke-opacity="1" stroke-linecap="butt"/>
<line x1="380.50" y1="168.30" x2="474.00" y2="116.00" stroke="#a492ea" stroke-width="1.8" stroke-opacity="1" stroke-linecap="butt"/>
<line x1="378.40" y1="162.40" x2="470.50" y2="94.60" stroke="#da1a4a" stroke-width="1.8" stroke-opacity="1" stroke-linecap="butt"/>
<line x1="400.50" y1="151.60" x2="487.70" y2="88.10" stroke="#e268ce" stroke-width="1.8" stroke-opacity="1" stroke-linecap="butt"/>
<line x1="422.00" y1="148.60" x2="594.60" y2="34.00" stroke="#1da6d8" stroke-width="2.1" stroke-opacity="1" stroke-linecap="butt"/>
<line x1="404.00" y1="164.40" x2="508.20" y2="81.40" stroke="#16137a" stroke-width="1.8" stroke-opacity="1" stroke-linecap="butt"/>
<line x1="51.00" y1="25.00" x2="51.00" y2="193.60" stroke="#3a3a3a" stroke-width="1.3" stroke-opacity="1" stroke-linecap="butt"/>
<line x1="50.40" y1="193.00" x2="303.60" y2="193.00" stroke="#3a3a3a" stroke-width="1.3" stroke-opacity="1" stroke-linecap="butt"/>
<line x1="48.60" y1="67.40" x2="51.00" y2="67.40" stroke="#3a3a3a" stroke-width="1.1" stroke-opacity="1" stroke-linecap="butt"/>
<text x="46.20" y="70.50" font-size="8.6" fill="#4d4d4d" stroke="#4d4d4d" stroke-width="0.18" text-anchor="end" font-weight="normal" font-style="normal" >1.00</text>
<line x1="48.60" y1="126.00" x2="51.00" y2="126.00" stroke="#3a3a3a" stroke-width="1.1" stroke-opacity="1" stroke-linecap="butt"/>
<text x="46.20" y="129.10" font-size="8.6" fill="#4d4d4d" stroke="#4d4d4d" stroke-width="0.18" text-anchor="end" font-weight="normal" font-style="normal" >0.10</text>
<line x1="48.60" y1="184.60" x2="51.00" y2="184.60" stroke="#3a3a3a" stroke-width="1.1" stroke-opacity="1" stroke-linecap="butt"/>
<text x="46.20" y="187.70" font-size="8.6" fill="#4d4d4d" stroke="#4d4d4d" stroke-width="0.18" text-anchor="end" font-weight="normal" font-style="normal" >0.01</text>
<line x1="73.02" y1="193.00" x2="73.02" y2="195.40" stroke="#3a3a3a" stroke-width="1.1" stroke-opacity="1" stroke-linecap="butt"/>
<text x="73.02" y="203.70" font-size="8.6" fill="#4d4d4d" stroke="#4d4d4d" stroke-width="0.18" text-anchor="middle" font-weight="normal" font-style="normal" >0.3</text>
<line x1="129.60" y1="193.00" x2="129.60" y2="195.40" stroke="#3a3a3a" stroke-width="1.1" stroke-opacity="1" stroke-linecap="butt"/>
<text x="129.60" y="203.70" font-size="8.6" fill="#4d4d4d" stroke="#4d4d4d" stroke-width="0.18" text-anchor="middle" font-weight="normal" font-style="normal" >1.0</text>
<line x1="181.22" y1="193.00" x2="181.22" y2="195.40" stroke="#3a3a3a" stroke-width="1.1" stroke-opacity="1" stroke-linecap="butt"/>
<text x="181.22" y="203.70" font-size="8.6" fill="#4d4d4d" stroke="#4d4d4d" stroke-width="0.18" text-anchor="middle" font-weight="normal" font-style="normal" >3.0</text>
<line x1="237.80" y1="193.00" x2="237.80" y2="195.40" stroke="#3a3a3a" stroke-width="1.1" stroke-opacity="1" stroke-linecap="butt"/>
<text x="237.80" y="203.70" font-size="8.6" fill="#4d4d4d" stroke="#4d4d4d" stroke-width="0.18" text-anchor="middle" font-weight="normal" font-style="normal" >10.0</text>
<line x1="289.42" y1="193.00" x2="289.42" y2="195.40" stroke="#3a3a3a" stroke-width="1.1" stroke-opacity="1" stroke-linecap="butt"/>
<text x="289.42" y="203.70" font-size="8.6" fill="#4d4d4d" stroke="#4d4d4d" stroke-width="0.18" text-anchor="middle" font-weight="normal" font-style="normal" >30.0</text>
<text x="176.50" y="215.60" font-size="10" fill="#1a1a1a" stroke="#1a1a1a" stroke-width="0.18" text-anchor="middle" font-weight="normal" font-style="normal" >Surface area (mm²)</text>
<text x="0.00" y="0.00" font-size="10" fill="#1a1a1a" stroke="#1a1a1a" stroke-width="0.18" text-anchor="middle" font-weight="normal" font-style="normal" transform="translate(26,112.5) rotate(-90)">Biovolume (mm³)</text>
<text x="9.20" y="24.40" font-size="10" fill="#111" stroke="#111" stroke-width="0" text-anchor="start" font-weight="bold" font-style="normal" >(A)</text>
<line x1="354.60" y1="25.00" x2="354.60" y2="193.60" stroke="#3a3a3a" stroke-width="1.3" stroke-opacity="1" stroke-linecap="butt"/>
<line x1="354.00" y1="193.00" x2="606.00" y2="193.00" stroke="#3a3a3a" stroke-width="1.3" stroke-opacity="1" stroke-linecap="butt"/>
<line x1="352.20" y1="54.96" x2="354.60" y2="54.96" stroke="#3a3a3a" stroke-width="1.1" stroke-opacity="1" stroke-linecap="butt"/>
<text x="349.80" y="58.06" font-size="8.6" fill="#4d4d4d" stroke="#4d4d4d" stroke-width="0.18" text-anchor="end" font-weight="normal" font-style="normal" >3.00</text>
<line x1="352.20" y1="83.30" x2="354.60" y2="83.30" stroke="#3a3a3a" stroke-width="1.1" stroke-opacity="1" stroke-linecap="butt"/>
<text x="349.80" y="86.40" font-size="8.6" fill="#4d4d4d" stroke="#4d4d4d" stroke-width="0.18" text-anchor="end" font-weight="normal" font-style="normal" >1.00</text>
<line x1="352.20" y1="114.36" x2="354.60" y2="114.36" stroke="#3a3a3a" stroke-width="1.1" stroke-opacity="1" stroke-linecap="butt"/>
<text x="349.80" y="117.46" font-size="8.6" fill="#4d4d4d" stroke="#4d4d4d" stroke-width="0.18" text-anchor="end" font-weight="normal" font-style="normal" >0.30</text>
<line x1="352.20" y1="142.70" x2="354.60" y2="142.70" stroke="#3a3a3a" stroke-width="1.1" stroke-opacity="1" stroke-linecap="butt"/>
<text x="349.80" y="145.80" font-size="8.6" fill="#4d4d4d" stroke="#4d4d4d" stroke-width="0.18" text-anchor="end" font-weight="normal" font-style="normal" >0.10</text>
<line x1="352.20" y1="173.76" x2="354.60" y2="173.76" stroke="#3a3a3a" stroke-width="1.1" stroke-opacity="1" stroke-linecap="butt"/>
<text x="349.80" y="176.86" font-size="8.6" fill="#4d4d4d" stroke="#4d4d4d" stroke-width="0.18" text-anchor="end" font-weight="normal" font-style="normal" >0.03</text>
<line x1="375.72" y1="193.00" x2="375.72" y2="195.40" stroke="#3a3a3a" stroke-width="1.1" stroke-opacity="1" stroke-linecap="butt"/>
<text x="375.72" y="203.70" font-size="8.6" fill="#4d4d4d" stroke="#4d4d4d" stroke-width="0.18" text-anchor="middle" font-weight="normal" font-style="normal" >0.3</text>
<line x1="432.40" y1="193.00" x2="432.40" y2="195.40" stroke="#3a3a3a" stroke-width="1.1" stroke-opacity="1" stroke-linecap="butt"/>
<text x="432.40" y="203.70" font-size="8.6" fill="#4d4d4d" stroke="#4d4d4d" stroke-width="0.18" text-anchor="middle" font-weight="normal" font-style="normal" >1.0</text>
<line x1="484.12" y1="193.00" x2="484.12" y2="195.40" stroke="#3a3a3a" stroke-width="1.1" stroke-opacity="1" stroke-linecap="butt"/>
<text x="484.12" y="203.70" font-size="8.6" fill="#4d4d4d" stroke="#4d4d4d" stroke-width="0.18" text-anchor="middle" font-weight="normal" font-style="normal" >3.0</text>
<line x1="540.80" y1="193.00" x2="540.80" y2="195.40" stroke="#3a3a3a" stroke-width="1.1" stroke-opacity="1" stroke-linecap="butt"/>
<text x="540.80" y="203.70" font-size="8.6" fill="#4d4d4d" stroke="#4d4d4d" stroke-width="0.18" text-anchor="middle" font-weight="normal" font-style="normal" >10.0</text>
<line x1="592.52" y1="193.00" x2="592.52" y2="195.40" stroke="#3a3a3a" stroke-width="1.1" stroke-opacity="1" stroke-linecap="butt"/>
<text x="592.52" y="203.70" font-size="8.6" fill="#4d4d4d" stroke="#4d4d4d" stroke-width="0.18" text-anchor="middle" font-weight="normal" font-style="normal" >30.0</text>
<text x="480.00" y="215.60" font-size="10" fill="#1a1a1a" stroke="#1a1a1a" stroke-width="0.18" text-anchor="middle" font-weight="normal" font-style="normal" >Surface area (mm²)</text>
<text x="0.00" y="0.00" font-size="10" fill="#1a1a1a" stroke="#1a1a1a" stroke-width="0.18" text-anchor="middle" font-weight="normal" font-style="normal" transform="translate(329,107.5) rotate(-90)">Calcite volume (mm³)</text>
<text x="313.00" y="24.40" font-size="10" fill="#111" stroke="#111" stroke-width="0" text-anchor="start" font-weight="bold" font-style="normal" >(B)</text>
<circle cx="265.00" cy="28.00" r="12.00" fill="#1da6d8" fill-opacity="1" stroke="none" stroke-width="0"/>
<circle cx="265.00" cy="28.00" r="8.30" fill="#e6f6f2" fill-opacity="1" stroke="none" stroke-width="0"/>
<circle cx="265.00" cy="28.00" r="6.3" fill="url(#g_tan)"/>
<circle cx="202.30" cy="66.60" r="12.00" fill="#e268ce" fill-opacity="1" stroke="none" stroke-width="0"/>
<circle cx="202.30" cy="66.60" r="8.40" fill="#f7e4ec" fill-opacity="1" stroke="none" stroke-width="0"/>
<circle cx="202.30" cy="66.60" r="6.7" fill="url(#g_yel)"/>
<circle cx="202.90" cy="64.80" r="1.60" fill="#4a3a18" fill-opacity="0.8" stroke="none" stroke-width="0"/>
<circle cx="238.30" cy="90.80" r="12.00" fill="#14108a" fill-opacity="1" stroke="none" stroke-width="0"/>
<circle cx="238.30" cy="90.80" r="8.40" fill="#dcdce6" fill-opacity="1" stroke="none" stroke-width="0"/>
<circle cx="238.30" cy="90.80" r="7.5" fill="url(#g_gry)"/>
<circle cx="181.80" cy="131.70" r="12.00" fill="#9a86ec" fill-opacity="1" stroke="none" stroke-width="0"/>
<circle cx="181.80" cy="131.70" r="8.40" fill="#f6f3e6" fill-opacity="1" stroke="none" stroke-width="0"/>
<circle cx="181.20" cy="132.60" r="6.0" fill="url(#g_olv)"/>
<circle cx="154.60" cy="79.60" r="12.00" fill="#f16c5c" fill-opacity="1" stroke="none" stroke-width="0"/>
<g transform="translate(154.60,79.60)"><path d="M0.3,-8.2 L2.4,-2.5 L3,2 L7.2,6.6 L1.5,4.2 L-3,4.4 L-8.2,3.8 L-2.6,0.4 Z" fill="#eac673"/><path d="M0.3,-5 L1.5,0 L0,2.5 L-3,2.6 Z" fill="#f0d890" opacity="0.8"/></g>
<circle cx="84.80" cy="126.50" r="12.00" fill="#52b525" fill-opacity="1" stroke="none" stroke-width="0"/>
<g transform="translate(84.80,126.50)"><path d="M-9,-3 L-5,-4.6 L-1,-5 L3,-2.6 L10,0.4 L4,2.6 L0.5,5.8 L-3,4.6 L-7,4 L-8.6,1 Z" fill="#cfbc98"/><path d="M2.6,-2.2 L10,0.4 L4,2.6 Z" fill="#e6ecd2"/><circle cx="-2.5" cy="0" r="2.6" fill="#b09a74" opacity="0.55"/><path d="M-9,-3 L-6.5,-5.2 L-5,-3.8 Z" fill="#d8ecc0"/></g>
<circle cx="118.90" cy="178.10" r="12.00" fill="#da1a4a" fill-opacity="1" stroke="none" stroke-width="0"/>
<g transform="translate(118.90,178.10)"><path d="M-8.6,-2.4 L-4.2,-3.8 L-1.2,-5 L1.6,-3.8 L4.8,-7 L3.6,-2 L4.4,0.6 L7,3.9 L3,2.6 L1.8,4.2 L2.4,8.4 L-0.2,4.3 L-3.2,3.6 L-5,1.2 L-4.6,-0.6 Z" fill="#f7ddc2"/><circle cx="-0.4" cy="-0.2" r="2.9" fill="#d2e2a2" opacity="0.9"/></g>
<circle cx="591.60" cy="59.60" r="12.00" fill="#1da6d8" fill-opacity="1" stroke="none" stroke-width="0"/>
<circle cx="591.60" cy="59.60" r="8.30" fill="#e6f6f2" fill-opacity="1" stroke="none" stroke-width="0"/>
<circle cx="591.60" cy="59.60" r="6.3" fill="url(#g_tan)"/>
<circle cx="494.00" cy="64.90" r="12.00" fill="#e268ce" fill-opacity="1" stroke="none" stroke-width="0"/>
<circle cx="494.00" cy="64.90" r="8.40" fill="#f7e4ec" fill-opacity="1" stroke="none" stroke-width="0"/>
<circle cx="494.00" cy="64.90" r="6.7" fill="url(#g_yel)"/>
<circle cx="494.60" cy="63.30" r="1.60" fill="#4a3a18" fill-opacity="0.8" stroke="none" stroke-width="0"/>
<circle cx="526.90" cy="54.90" r="12.00" fill="#14108a" fill-opacity="1" stroke="none" stroke-width="0"/>
<circle cx="526.90" cy="54.90" r="8.40" fill="#dcdce6" fill-opacity="1" stroke="none" stroke-width="0"/>
<circle cx="526.90" cy="54.90" r="7.5" fill="url(#g_gry)"/>
<circle cx="479.30" cy="131.70" r="12.00" fill="#9a86ec" fill-opacity="1" stroke="none" stroke-width="0"/>
<circle cx="479.30" cy="131.70" r="8.40" fill="#f6f3e6" fill-opacity="1" stroke="none" stroke-width="0"/>
<circle cx="478.70" cy="132.60" r="6.0" fill="url(#g_olv)"/>
<circle cx="382.50" cy="117.00" r="12.00" fill="#f16c5c" fill-opacity="1" stroke="none" stroke-width="0"/>
<g transform="translate(382.50,117.00)"><path d="M0.3,-8.2 L2.4,-2.5 L3,2 L7.2,6.6 L1.5,4.2 L-3,4.4 L-8.2,3.8 L-2.6,0.4 Z" fill="#eac673"/><path d="M0.3,-5 L1.5,0 L0,2.5 L-3,2.6 Z" fill="#f0d890" opacity="0.8"/></g>
<circle cx="428.20" cy="176.80" r="12.00" fill="#52b525" fill-opacity="1" stroke="none" stroke-width="0"/>
<g transform="translate(428.20,176.80)"><path d="M-9,-3 L-5,-4.6 L-1,-5 L3,-2.6 L10,0.4 L4,2.6 L0.5,5.8 L-3,4.6 L-7,4 L-8.6,1 Z" fill="#cfbc98"/><path d="M2.6,-2.2 L10,0.4 L4,2.6 Z" fill="#e6ecd2"/><circle cx="-2.5" cy="0" r="2.6" fill="#b09a74" opacity="0.55"/><path d="M-9,-3 L-6.5,-5.2 L-5,-3.8 Z" fill="#d8ecc0"/></g>
<circle cx="464.30" cy="66.10" r="12.00" fill="#da1a4a" fill-opacity="1" stroke="none" stroke-width="0"/>
<g transform="translate(464.30,66.10)"><path d="M-8.6,-2.4 L-4.2,-3.8 L-1.2,-5 L1.6,-3.8 L4.8,-7 L3.6,-2 L4.4,0.6 L7,3.9 L3,2.6 L1.8,4.2 L2.4,8.4 L-0.2,4.3 L-3.2,3.6 L-5,1.2 L-4.6,-0.6 Z" fill="#f7ddc2"/><circle cx="-0.4" cy="-0.2" r="2.9" fill="#d2e2a2" opacity="0.9"/></g>
<text x="213.20" y="113.90" font-size="9" fill="#38a9d2" stroke="#38a9d2" stroke-width="0" text-anchor="start" font-weight="normal" font-style="normal" ><tspan font-style="italic">R</tspan> = 0.99, <tspan font-style="italic">p</tspan> &lt; 2.2e−16</text>
<text x="213.20" y="125.70" font-size="9" fill="#e298d8" stroke="#e298d8" stroke-width="0" text-anchor="start" font-weight="normal" font-style="normal" ><tspan font-style="italic">R</tspan> = 0.92, <tspan font-style="italic">p</tspan> = 1.3e−12</text>
<text x="213.20" y="137.50" font-size="9" fill="#eca292" stroke="#eca292" stroke-width="0" text-anchor="start" font-weight="normal" font-style="normal" ><tspan font-style="italic">R</tspan> = 0.97, <tspan font-style="italic">p</tspan> &lt; 2.2e−16</text>
<text x="213.20" y="149.30" font-size="9" fill="#c82e5e" stroke="#c82e5e" stroke-width="0" text-anchor="start" font-weight="normal" font-style="normal" ><tspan font-style="italic">R</tspan> = 0.95, <tspan font-style="italic">p</tspan> = 7.1e−15</text>
<text x="213.20" y="161.10" font-size="9" fill="#24245e" stroke="#24245e" stroke-width="0" text-anchor="start" font-weight="normal" font-style="normal" ><tspan font-style="italic">R</tspan> = 0.99, <tspan font-style="italic">p</tspan> &lt; 2.2e−16</text>
<text x="213.20" y="172.90" font-size="9" fill="#7fc05a" stroke="#7fc05a" stroke-width="0" text-anchor="start" font-weight="normal" font-style="normal" ><tspan font-style="italic">R</tspan> = 0.93, <tspan font-style="italic">p</tspan> = 5.6e−14</text>
<text x="213.20" y="184.70" font-size="9" fill="#a6a4dc" stroke="#a6a4dc" stroke-width="0" text-anchor="start" font-weight="normal" font-style="normal" ><tspan font-style="italic">R</tspan> = 0.94, <tspan font-style="italic">p</tspan> = 1e−13</text>
<text x="518.20" y="113.30" font-size="9" fill="#38a9d2" stroke="#38a9d2" stroke-width="0" text-anchor="start" font-weight="normal" font-style="normal" ><tspan font-style="italic">R</tspan> = 0.97, <tspan font-style="italic">p</tspan> &lt; 2.2e−16</text>
<text x="518.20" y="125.10" font-size="9" fill="#e298d8" stroke="#e298d8" stroke-width="0" text-anchor="start" font-weight="normal" font-style="normal" ><tspan font-style="italic">R</tspan> = 0.97, <tspan font-style="italic">p</tspan> &lt; 2.2e−16</text>
<text x="518.20" y="136.90" font-size="9" fill="#eca292" stroke="#eca292" stroke-width="0" text-anchor="start" font-weight="normal" font-style="normal" ><tspan font-style="italic">R</tspan> = 0.97, <tspan font-style="italic">p</tspan> &lt; 2.2e−16</text>
<text x="518.20" y="148.70" font-size="9" fill="#c82e5e" stroke="#c82e5e" stroke-width="0" text-anchor="start" font-weight="normal" font-style="normal" ><tspan font-style="italic">R</tspan> = 0.99, <tspan font-style="italic">p</tspan> &lt; 2.2e−16</text>
<text x="518.20" y="160.50" font-size="9" fill="#24245e" stroke="#24245e" stroke-width="0" text-anchor="start" font-weight="normal" font-style="normal" ><tspan font-style="italic">R</tspan> = 0.98, <tspan font-style="italic">p</tspan> &lt; 2.2e−16</text>
<text x="518.20" y="172.30" font-size="9" fill="#7fc05a" stroke="#7fc05a" stroke-width="0" text-anchor="start" font-weight="normal" font-style="normal" ><tspan font-style="italic">R</tspan> = 0.89, <tspan font-style="italic">p</tspan> = 2.8e−11</text>
<text x="518.20" y="184.10" font-size="9" fill="#a6a4dc" stroke="#a6a4dc" stroke-width="0" text-anchor="start" font-weight="normal" font-style="normal" ><tspan font-style="italic">R</tspan> = 0.94, <tspan font-style="italic">p</tspan> = 1.9e−14</text>
<text x="9.20" y="220.40" font-size="10" fill="#111" stroke="#111" stroke-width="0" text-anchor="start" font-weight="bold" font-style="normal" >(C)</text>
<line x1="51.20" y1="240.50" x2="51.20" y2="296.00" stroke="#3a3a3a" stroke-width="1.3" stroke-opacity="1" stroke-linecap="butt"/>
<line x1="50.60" y1="295.70" x2="606.00" y2="295.70" stroke="#3a3a3a" stroke-width="1.3" stroke-opacity="1" stroke-linecap="butt"/>
<line x1="48.80" y1="282.05" x2="51.20" y2="282.05" stroke="#3a3a3a" stroke-width="1.1" stroke-opacity="1" stroke-linecap="butt"/>
<text x="46.40" y="285.15" font-size="8.6" fill="#4d4d4d" stroke="#4d4d4d" stroke-width="0.18" text-anchor="end" font-weight="normal" font-style="normal" >5</text>
<line x1="48.80" y1="265.30" x2="51.20" y2="265.30" stroke="#3a3a3a" stroke-width="1.1" stroke-opacity="1" stroke-linecap="butt"/>
<text x="46.40" y="268.40" font-size="8.6" fill="#4d4d4d" stroke="#4d4d4d" stroke-width="0.18" text-anchor="end" font-weight="normal" font-style="normal" >10</text>
<line x1="48.80" y1="248.55" x2="51.20" y2="248.55" stroke="#3a3a3a" stroke-width="1.1" stroke-opacity="1" stroke-linecap="butt"/>
<text x="46.40" y="251.65" font-size="8.6" fill="#4d4d4d" stroke="#4d4d4d" stroke-width="0.18" text-anchor="end" font-weight="normal" font-style="normal" >15</text>
<text x="0.00" y="0.00" font-size="10" fill="#1a1a1a" stroke="#1a1a1a" stroke-width="0.18" text-anchor="middle" font-weight="normal" font-style="normal" transform="translate(15,271.4) rotate(-90)">Surface area to</text>
<text x="0.00" y="0.00" font-size="10" fill="#1a1a1a" stroke="#1a1a1a" stroke-width="0.18" text-anchor="middle" font-weight="normal" font-style="normal" transform="translate(27.6,269.5) rotate(-90)">calcite volume ratio</text>
<line x1="97.30" y1="257.00" x2="97.30" y2="266.40" stroke="#1da6d8" stroke-width="1.1" stroke-opacity="1" stroke-linecap="butt"/>
<line x1="97.30" y1="280.60" x2="97.30" y2="284.60" stroke="#1da6d8" stroke-width="1.1" stroke-opacity="1" stroke-linecap="butt"/>
<rect x="68.30" y="266.40" width="58" height="14.20" fill="#1da6d8" fill-opacity="0.1" stroke="#1da6d8" stroke-width="1.2"/>
<line x1="68.30" y1="271.30" x2="126.30" y2="271.30" stroke="#1da6d8" stroke-width="2.0" stroke-opacity="1" stroke-linecap="butt"/>
<text x="97.30" y="237.60" font-size="8.2" fill="#595959" stroke="#595959" stroke-width="0" text-anchor="middle" font-weight="normal" font-style="normal" >a</text>
<text x="97.30" y="307.60" font-size="10" fill="#111" stroke="#111" stroke-width="0.18" text-anchor="middle" font-weight="normal" font-style="italic" >Amphisorus SpL</text>
<line x1="174.50" y1="267.70" x2="174.50" y2="274.90" stroke="#e268ce" stroke-width="1.1" stroke-opacity="1" stroke-linecap="butt"/>
<line x1="174.50" y1="282.20" x2="174.50" y2="284.80" stroke="#e268ce" stroke-width="1.1" stroke-opacity="1" stroke-linecap="butt"/>
<rect x="145.50" y="274.90" width="58" height="7.30" fill="#e268ce" fill-opacity="0.07" stroke="#e268ce" stroke-width="1.2"/>
<line x1="145.50" y1="278.60" x2="203.50" y2="278.60" stroke="#e268ce" stroke-width="2.0" stroke-opacity="1" stroke-linecap="butt"/>
<text x="174.50" y="237.60" font-size="8.2" fill="#595959" stroke="#595959" stroke-width="0" text-anchor="middle" font-weight="normal" font-style="normal" >b</text>
<text x="174.50" y="307.60" font-size="10" fill="#111" stroke="#111" stroke-width="0.18" text-anchor="middle" font-weight="normal" font-style="italic" >A. lessonii</text>
<line x1="251.70" y1="285.50" x2="251.70" y2="288.20" stroke="#f16c5c" stroke-width="1.1" stroke-opacity="1" stroke-linecap="butt"/>
<line x1="251.70" y1="290.60" x2="251.70" y2="293.00" stroke="#f16c5c" stroke-width="1.1" stroke-opacity="1" stroke-linecap="butt"/>
<rect x="222.70" y="288.20" width="58" height="2.40" fill="#f16c5c" fill-opacity="0.06" stroke="#f16c5c" stroke-width="1.2"/>
<line x1="222.70" y1="289.40" x2="280.70" y2="289.40" stroke="#f16c5c" stroke-width="2.0" stroke-opacity="1" stroke-linecap="butt"/>
<text x="251.70" y="237.60" font-size="8.2" fill="#595959" stroke="#595959" stroke-width="0" text-anchor="middle" font-weight="normal" font-style="normal" >c</text>
<text x="251.70" y="307.60" font-size="10" fill="#111" stroke="#111" stroke-width="0.18" text-anchor="middle" font-weight="normal" font-style="italic" >B. spinosus</text>
<line x1="328.90" y1="281.50" x2="328.90" y2="282.20" stroke="#da1a4a" stroke-width="1.1" stroke-opacity="1" stroke-linecap="butt"/>
<line x1="328.90" y1="286.60" x2="328.90" y2="287.50" stroke="#da1a4a" stroke-width="1.1" stroke-opacity="1" stroke-linecap="butt"/>
<rect x="299.90" y="282.20" width="58" height="4.40" fill="#da1a4a" fill-opacity="0.05" stroke="#da1a4a" stroke-width="1.2"/>
<line x1="299.90" y1="284.80" x2="357.90" y2="284.80" stroke="#da1a4a" stroke-width="2.0" stroke-opacity="1" stroke-linecap="butt"/>
<text x="328.90" y="237.60" font-size="8.2" fill="#595959" stroke="#595959" stroke-width="0" text-anchor="middle" font-weight="normal" font-style="normal" >d</text>
<text x="328.90" y="307.60" font-size="10" fill="#111" stroke="#111" stroke-width="0.18" text-anchor="middle" font-weight="normal" font-style="italic" >C. spengleri</text>
<line x1="406.10" y1="253.60" x2="406.10" y2="266.70" stroke="#16137a" stroke-width="1.1" stroke-opacity="1" stroke-linecap="butt"/>
<line x1="406.10" y1="278.70" x2="406.10" y2="283.80" stroke="#16137a" stroke-width="1.1" stroke-opacity="1" stroke-linecap="butt"/>
<rect x="377.10" y="266.70" width="58" height="12.00" fill="#16137a" fill-opacity="0.0" stroke="#16137a" stroke-width="1.2"/>
<line x1="377.10" y1="275.40" x2="435.10" y2="275.40" stroke="#16137a" stroke-width="2.0" stroke-opacity="1" stroke-linecap="butt"/>
<text x="406.10" y="237.60" font-size="8.2" fill="#595959" stroke="#595959" stroke-width="0" text-anchor="middle" font-weight="normal" font-style="normal" >abe</text>
<text x="406.10" y="307.60" font-size="10" fill="#111" stroke="#111" stroke-width="0.18" text-anchor="middle" font-weight="normal" font-style="italic" >H. depressa</text>
<line x1="483.30" y1="249.30" x2="483.30" y2="256.30" stroke="#52b525" stroke-width="1.1" stroke-opacity="1" stroke-linecap="butt"/>
<line x1="483.30" y1="264.50" x2="483.30" y2="270.40" stroke="#52b525" stroke-width="1.1" stroke-opacity="1" stroke-linecap="butt"/>
<rect x="454.30" y="256.30" width="58" height="8.20" fill="#52b525" fill-opacity="0.1" stroke="#52b525" stroke-width="1.2"/>
<line x1="454.30" y1="260.70" x2="512.30" y2="260.70" stroke="#52b525" stroke-width="2.0" stroke-opacity="1" stroke-linecap="butt"/>
<text x="483.30" y="237.60" font-size="8.2" fill="#595959" stroke="#595959" stroke-width="0" text-anchor="middle" font-weight="normal" font-style="normal" >f</text>
<text x="483.30" y="307.60" font-size="10" fill="#111" stroke="#111" stroke-width="0.18" text-anchor="middle" font-weight="normal" font-style="italic" >N. gaimardi</text>
<line x1="560.50" y1="254.50" x2="560.50" y2="266.80" stroke="#9a86ec" stroke-width="1.1" stroke-opacity="1" stroke-linecap="butt"/>
<line x1="560.50" y1="274.70" x2="560.50" y2="283.00" stroke="#9a86ec" stroke-width="1.1" stroke-opacity="1" stroke-linecap="butt"/>
<rect x="531.50" y="266.80" width="58" height="7.90" fill="#9a86ec" fill-opacity="0.03" stroke="#9a86ec" stroke-width="1.2"/>
<line x1="531.50" y1="272.90" x2="589.50" y2="272.90" stroke="#9a86ec" stroke-width="2.0" stroke-opacity="1" stroke-linecap="butt"/>
<text x="560.50" y="237.60" font-size="8.2" fill="#595959" stroke="#595959" stroke-width="0" text-anchor="middle" font-weight="normal" font-style="normal" >ae</text>
<text x="560.50" y="307.60" font-size="10" fill="#111" stroke="#111" stroke-width="0.18" text-anchor="middle" font-weight="normal" font-style="italic" >O. ammonoides</text>
<rect x="222.70" y="287.80" width="58.00" height="3.20" fill="#f16c5c" stroke="none" stroke-width="1"/>
<circle cx="328.90" cy="275.80" r="1.90" fill="#da1a4a" fill-opacity="1" stroke="none" stroke-width="0"/>
<circle cx="406.10" cy="242.50" r="1.90" fill="#16137a" fill-opacity="1" stroke="none" stroke-width="0"/>
<circle cx="406.10" cy="245.10" r="1.90" fill="#16137a" fill-opacity="1" stroke="none" stroke-width="0"/>
<circle cx="560.50" cy="254.60" r="1.90" fill="#9a86ec" fill-opacity="1" stroke="none" stroke-width="0"/>
<text x="9.20" y="346.30" font-size="10" fill="#111" stroke="#111" stroke-width="0" text-anchor="start" font-weight="bold" font-style="normal" >(D)</text>
<line x1="51.25" y1="352.00" x2="51.25" y2="408.20" stroke="#3a3a3a" stroke-width="1.3" stroke-opacity="1" stroke-linecap="butt"/>
<line x1="50.60" y1="407.60" x2="302.00" y2="407.60" stroke="#3a3a3a" stroke-width="1.3" stroke-opacity="1" stroke-linecap="butt"/>
<line x1="48.80" y1="406.80" x2="51.25" y2="406.80" stroke="#3a3a3a" stroke-width="1.1" stroke-opacity="1" stroke-linecap="butt"/>
<text x="46.60" y="409.90" font-size="8.6" fill="#4d4d4d" stroke="#4d4d4d" stroke-width="0.18" text-anchor="end" font-weight="normal" font-style="normal" >0.0</text>
<line x1="48.80" y1="392.85" x2="51.25" y2="392.85" stroke="#3a3a3a" stroke-width="1.1" stroke-opacity="1" stroke-linecap="butt"/>
<text x="46.60" y="395.95" font-size="8.6" fill="#4d4d4d" stroke="#4d4d4d" stroke-width="0.18" text-anchor="end" font-weight="normal" font-style="normal" >0.5</text>
<line x1="48.80" y1="378.90" x2="51.25" y2="378.90" stroke="#3a3a3a" stroke-width="1.1" stroke-opacity="1" stroke-linecap="butt"/>
<text x="46.60" y="382.00" font-size="8.6" fill="#4d4d4d" stroke="#4d4d4d" stroke-width="0.18" text-anchor="end" font-weight="normal" font-style="normal" >1.0</text>
<line x1="48.80" y1="364.95" x2="51.25" y2="364.95" stroke="#3a3a3a" stroke-width="1.1" stroke-opacity="1" stroke-linecap="butt"/>
<text x="46.60" y="368.05" font-size="8.6" fill="#4d4d4d" stroke="#4d4d4d" stroke-width="0.18" text-anchor="end" font-weight="normal" font-style="normal" >1.5</text>
<line x1="53.00" y1="407.60" x2="53.00" y2="410.00" stroke="#3a3a3a" stroke-width="1.1" stroke-opacity="1" stroke-linecap="butt"/>
<text x="53.00" y="419.20" font-size="8.6" fill="#4d4d4d" stroke="#4d4d4d" stroke-width="0.18" text-anchor="middle" font-weight="normal" font-style="normal" >0.0</text>
<line x1="109.80" y1="407.60" x2="109.80" y2="410.00" stroke="#3a3a3a" stroke-width="1.1" stroke-opacity="1" stroke-linecap="butt"/>
<text x="109.80" y="419.20" font-size="8.6" fill="#4d4d4d" stroke="#4d4d4d" stroke-width="0.18" text-anchor="middle" font-weight="normal" font-style="normal" >0.2</text>
<line x1="166.60" y1="407.60" x2="166.60" y2="410.00" stroke="#3a3a3a" stroke-width="1.1" stroke-opacity="1" stroke-linecap="butt"/>
<text x="166.60" y="419.20" font-size="8.6" fill="#4d4d4d" stroke="#4d4d4d" stroke-width="0.18" text-anchor="middle" font-weight="normal" font-style="normal" >0.4</text>
<line x1="223.40" y1="407.60" x2="223.40" y2="410.00" stroke="#3a3a3a" stroke-width="1.1" stroke-opacity="1" stroke-linecap="butt"/>
<text x="223.40" y="419.20" font-size="8.6" fill="#4d4d4d" stroke="#4d4d4d" stroke-width="0.18" text-anchor="middle" font-weight="normal" font-style="normal" >0.6</text>
<line x1="280.20" y1="407.60" x2="280.20" y2="410.00" stroke="#3a3a3a" stroke-width="1.1" stroke-opacity="1" stroke-linecap="butt"/>
<text x="280.20" y="419.20" font-size="8.6" fill="#4d4d4d" stroke="#4d4d4d" stroke-width="0.18" text-anchor="middle" font-weight="normal" font-style="normal" >0.8</text>
<text x="180.00" y="432.00" font-size="10" fill="#1a1a1a" stroke="#1a1a1a" stroke-width="0.18" text-anchor="middle" font-weight="normal" font-style="normal" >Calcite volume (mm³)</text>
<text x="0.00" y="0.00" font-size="10" fill="#1a1a1a" stroke="#1a1a1a" stroke-width="0.18" text-anchor="middle" font-weight="normal" font-style="normal" transform="translate(15.2,381.6) rotate(-90)">Calcite</text>
<text x="0.00" y="0.00" font-size="10" fill="#1a1a1a" stroke="#1a1a1a" stroke-width="0.18" text-anchor="middle" font-weight="normal" font-style="normal" transform="translate(27.8,380.6) rotate(-90)">weight (mg)</text>
<circle cx="62.80" cy="404.20" r="2.50" fill="#9292cc" fill-opacity="0.6" stroke="none" stroke-width="0"/>
<circle cx="66.60" cy="403.00" r="2.50" fill="#9292cc" fill-opacity="0.6" stroke="none" stroke-width="0"/>
<circle cx="70.70" cy="405.90" r="2.50" fill="#9292cc" fill-opacity="0.6" stroke="none" stroke-width="0"/>
<circle cx="74.90" cy="400.70" r="2.50" fill="#9292cc" fill-opacity="0.6" stroke="none" stroke-width="0"/>
<circle cx="100.80" cy="398.70" r="2.50" fill="#9292cc" fill-opacity="0.6" stroke="none" stroke-width="0"/>
<circle cx="104.90" cy="393.50" r="2.50" fill="#9292cc" fill-opacity="0.6" stroke="none" stroke-width="0"/>
<circle cx="112.20" cy="393.50" r="2.50" fill="#9292cc" fill-opacity="0.6" stroke="none" stroke-width="0"/>
<circle cx="114.70" cy="391.20" r="2.50" fill="#9292cc" fill-opacity="0.6" stroke="none" stroke-width="0"/>
<circle cx="132.90" cy="388.70" r="2.50" fill="#9292cc" fill-opacity="0.6" stroke="none" stroke-width="0"/>
<circle cx="135.00" cy="389.70" r="2.50" fill="#9292cc" fill-opacity="0.6" stroke="none" stroke-width="0"/>
<circle cx="151.10" cy="383.90" r="2.50" fill="#9292cc" fill-opacity="0.6" stroke="none" stroke-width="0"/>
<circle cx="153.60" cy="385.20" r="2.50" fill="#9292cc" fill-opacity="0.6" stroke="none" stroke-width="0"/>
<circle cx="166.00" cy="381.00" r="2.50" fill="#9292cc" fill-opacity="0.6" stroke="none" stroke-width="0"/>
<circle cx="188.30" cy="376.30" r="2.50" fill="#9292cc" fill-opacity="0.6" stroke="none" stroke-width="0"/>
<circle cx="216.50" cy="368.80" r="2.50" fill="#9292cc" fill-opacity="0.6" stroke="none" stroke-width="0"/>
<circle cx="222.00" cy="370.00" r="2.50" fill="#9292cc" fill-opacity="0.6" stroke="none" stroke-width="0"/>
<circle cx="248.30" cy="365.00" r="2.50" fill="#9292cc" fill-opacity="0.6" stroke="none" stroke-width="0"/>
<circle cx="254.50" cy="363.80" r="2.50" fill="#9292cc" fill-opacity="0.6" stroke="none" stroke-width="0"/>
<circle cx="292.00" cy="356.30" r="2.50" fill="#9292cc" fill-opacity="0.6" stroke="none" stroke-width="0"/>
<circle cx="152.50" cy="385.00" r="2.50" fill="#9292cc" fill-opacity="0.6" stroke="none" stroke-width="0"/>
<circle cx="165.80" cy="381.30" r="2.50" fill="#9292cc" fill-opacity="0.6" stroke="none" stroke-width="0"/>
<line x1="62.50" y1="404.70" x2="290.75" y2="354.50" stroke="#16137a" stroke-width="2.0" stroke-opacity="1" stroke-linecap="butt"/>
<circle cx="281.50" cy="378.80" r="12.00" fill="#14108a" fill-opacity="1" stroke="none" stroke-width="0"/>
<circle cx="281.50" cy="378.80" r="8.40" fill="#dcdce6" fill-opacity="1" stroke="none" stroke-width="0"/>
<circle cx="281.50" cy="378.80" r="7.5" fill="url(#g_gry)"/>
<text x="62.50" y="365.60" font-size="9.2" fill="#2b2b7a" stroke="#2b2b7a" stroke-width="0" text-anchor="start" font-weight="normal" font-style="normal" ><tspan font-style="italic">R</tspan> = 1, <tspan font-style="italic">p</tspan> &lt; 2.2e−16</text>
<text x="313.00" y="346.30" font-size="10" fill="#111" stroke="#111" stroke-width="0" text-anchor="start" font-weight="bold" font-style="normal" >(E)</text>
<line x1="354.75" y1="352.00" x2="354.75" y2="408.20" stroke="#3a3a3a" stroke-width="1.3" stroke-opacity="1" stroke-linecap="butt"/>
<line x1="354.10" y1="407.60" x2="606.00" y2="407.60" stroke="#3a3a3a" stroke-width="1.3" stroke-opacity="1" stroke-linecap="butt"/>
<line x1="352.30" y1="407.00" x2="354.75" y2="407.00" stroke="#3a3a3a" stroke-width="1.1" stroke-opacity="1" stroke-linecap="butt"/>
<text x="350.10" y="410.10" font-size="8.6" fill="#4d4d4d" stroke="#4d4d4d" stroke-width="0.18" text-anchor="end" font-weight="normal" font-style="normal" >0.0</text>
<line x1="352.30" y1="392.50" x2="354.75" y2="392.50" stroke="#3a3a3a" stroke-width="1.1" stroke-opacity="1" stroke-linecap="butt"/>
<text x="350.10" y="395.60" font-size="8.6" fill="#4d4d4d" stroke="#4d4d4d" stroke-width="0.18" text-anchor="end" font-weight="normal" font-style="normal" >0.5</text>
<line x1="352.30" y1="378.00" x2="354.75" y2="378.00" stroke="#3a3a3a" stroke-width="1.1" stroke-opacity="1" stroke-linecap="butt"/>
<text x="350.10" y="381.10" font-size="8.6" fill="#4d4d4d" stroke="#4d4d4d" stroke-width="0.18" text-anchor="end" font-weight="normal" font-style="normal" >1.0</text>
<line x1="352.30" y1="363.50" x2="354.75" y2="363.50" stroke="#3a3a3a" stroke-width="1.1" stroke-opacity="1" stroke-linecap="butt"/>
<text x="350.10" y="366.60" font-size="8.6" fill="#4d4d4d" stroke="#4d4d4d" stroke-width="0.18" text-anchor="end" font-weight="normal" font-style="normal" >1.5</text>
<line x1="389.00" y1="407.60" x2="389.00" y2="410.00" stroke="#3a3a3a" stroke-width="1.1" stroke-opacity="1" stroke-linecap="butt"/>
<text x="389.00" y="419.20" font-size="8.6" fill="#4d4d4d" stroke="#4d4d4d" stroke-width="0.18" text-anchor="middle" font-weight="normal" font-style="normal" >1</text>
<line x1="441.00" y1="407.60" x2="441.00" y2="410.00" stroke="#3a3a3a" stroke-width="1.1" stroke-opacity="1" stroke-linecap="butt"/>
<text x="441.00" y="419.20" font-size="8.6" fill="#4d4d4d" stroke="#4d4d4d" stroke-width="0.18" text-anchor="middle" font-weight="normal" font-style="normal" >2</text>
<line x1="493.00" y1="407.60" x2="493.00" y2="410.00" stroke="#3a3a3a" stroke-width="1.1" stroke-opacity="1" stroke-linecap="butt"/>
<text x="493.00" y="419.20" font-size="8.6" fill="#4d4d4d" stroke="#4d4d4d" stroke-width="0.18" text-anchor="middle" font-weight="normal" font-style="normal" >3</text>
<line x1="545.00" y1="407.60" x2="545.00" y2="410.00" stroke="#3a3a3a" stroke-width="1.1" stroke-opacity="1" stroke-linecap="butt"/>
<text x="545.00" y="419.20" font-size="8.6" fill="#4d4d4d" stroke="#4d4d4d" stroke-width="0.18" text-anchor="middle" font-weight="normal" font-style="normal" >4</text>
<line x1="597.00" y1="407.60" x2="597.00" y2="410.00" stroke="#3a3a3a" stroke-width="1.1" stroke-opacity="1" stroke-linecap="butt"/>
<text x="597.00" y="419.20" font-size="8.6" fill="#4d4d4d" stroke="#4d4d4d" stroke-width="0.18" text-anchor="middle" font-weight="normal" font-style="normal" >5</text>
<text x="480.50" y="432.00" font-size="10" fill="#1a1a1a" stroke="#1a1a1a" stroke-width="0.18" text-anchor="middle" font-weight="normal" font-style="normal" >Surface area (mm²)</text>
<text x="0.00" y="0.00" font-size="10" fill="#1a1a1a" stroke="#1a1a1a" stroke-width="0.18" text-anchor="middle" font-weight="normal" font-style="normal" transform="translate(329.3,380.6) rotate(-90)">Weight (mg)</text>
<circle cx="365.40" cy="404.20" r="2.50" fill="#9a9acc" fill-opacity="0.6" stroke="none" stroke-width="0"/>
<circle cx="368.50" cy="403.20" r="2.50" fill="#9a9acc" fill-opacity="0.6" stroke="none" stroke-width="0"/>
<circle cx="375.80" cy="401.10" r="2.50" fill="#9a9acc" fill-opacity="0.6" stroke="none" stroke-width="0"/>
<circle cx="378.90" cy="405.30" r="2.50" fill="#9a9acc" fill-opacity="0.6" stroke="none" stroke-width="0"/>
<circle cx="386.10" cy="401.60" r="2.50" fill="#9a9acc" fill-opacity="0.6" stroke="none" stroke-width="0"/>
<circle cx="404.80" cy="391.80" r="2.50" fill="#9a9acc" fill-opacity="0.6" stroke="none" stroke-width="0"/>
<circle cx="411.00" cy="392.80" r="2.50" fill="#9a9acc" fill-opacity="0.6" stroke="none" stroke-width="0"/>
<circle cx="411.60" cy="398.40" r="2.50" fill="#9a9acc" fill-opacity="0.6" stroke="none" stroke-width="0"/>
<circle cx="414.10" cy="394.30" r="2.50" fill="#9a9acc" fill-opacity="0.6" stroke="none" stroke-width="0"/>
<circle cx="419.90" cy="390.80" r="2.50" fill="#9a9acc" fill-opacity="0.6" stroke="none" stroke-width="0"/>
<circle cx="431.70" cy="387.30" r="2.50" fill="#9a9acc" fill-opacity="0.6" stroke="none" stroke-width="0"/>
<circle cx="441.00" cy="389.30" r="2.50" fill="#9a9acc" fill-opacity="0.6" stroke="none" stroke-width="0"/>
<circle cx="444.60" cy="383.10" r="2.50" fill="#9a9acc" fill-opacity="0.6" stroke="none" stroke-width="0"/>
<circle cx="453.50" cy="387.70" r="2.50" fill="#9a9acc" fill-opacity="0.6" stroke="none" stroke-width="0"/>
<circle cx="455.60" cy="386.00" r="2.50" fill="#9a9acc" fill-opacity="0.6" stroke="none" stroke-width="0"/>
<circle cx="472.10" cy="384.10" r="2.50" fill="#9a9acc" fill-opacity="0.6" stroke="none" stroke-width="0"/>
<circle cx="478.40" cy="369.00" r="2.50" fill="#9a9acc" fill-opacity="0.6" stroke="none" stroke-width="0"/>
<circle cx="478.00" cy="374.20" r="2.50" fill="#9a9acc" fill-opacity="0.6" stroke="none" stroke-width="0"/>
<circle cx="479.80" cy="368.80" r="2.50" fill="#9a9acc" fill-opacity="0.6" stroke="none" stroke-width="0"/>
<circle cx="498.50" cy="367.50" r="2.50" fill="#9a9acc" fill-opacity="0.6" stroke="none" stroke-width="0"/>
<circle cx="511.00" cy="363.80" r="2.50" fill="#9a9acc" fill-opacity="0.6" stroke="none" stroke-width="0"/>
<circle cx="513.00" cy="367.50" r="2.50" fill="#9a9acc" fill-opacity="0.6" stroke="none" stroke-width="0"/>
<circle cx="530.50" cy="370.00" r="2.50" fill="#9a9acc" fill-opacity="0.6" stroke="none" stroke-width="0"/>
<circle cx="536.00" cy="354.50" r="2.50" fill="#9a9acc" fill-opacity="0.6" stroke="none" stroke-width="0"/>
<circle cx="594.80" cy="363.00" r="2.50" fill="#9a9acc" fill-opacity="0.6" stroke="none" stroke-width="0"/>
<circle cx="472.30" cy="383.80" r="2.50" fill="#9a9acc" fill-opacity="0.6" stroke="none" stroke-width="0"/>
<circle cx="457.30" cy="385.00" r="2.50" fill="#9a9acc" fill-opacity="0.6" stroke="none" stroke-width="0"/>
<line x1="366.00" y1="401.40" x2="594.25" y2="354.50" stroke="#16137a" stroke-width="2.0" stroke-opacity="1" stroke-linecap="butt"/>
<circle cx="579.60" cy="378.30" r="12.00" fill="#14108a" fill-opacity="1" stroke="none" stroke-width="0"/>
<circle cx="579.60" cy="378.30" r="8.40" fill="#dcdce6" fill-opacity="1" stroke="none" stroke-width="0"/>
<circle cx="579.60" cy="378.30" r="7.5" fill="url(#g_gry)"/>
<text x="365.20" y="364.20" font-size="9.2" fill="#2b2b7a" stroke="#2b2b7a" stroke-width="0" text-anchor="start" font-weight="normal" font-style="normal" ><tspan font-style="italic">R</tspan> = 0.96, <tspan font-style="italic">p</tspan> = 2.3e−16</text>
<text x="452.8 493.5 528 570.8" y="423.5" font-size="40" fill="#720b0b" stroke="#720b0b" stroke-width="0.6" font-weight="bold" style="font-family:'Liberation Serif','Noto Serif CJK SC',serif">昆山友硕</text>
</svg>
</body></html>
